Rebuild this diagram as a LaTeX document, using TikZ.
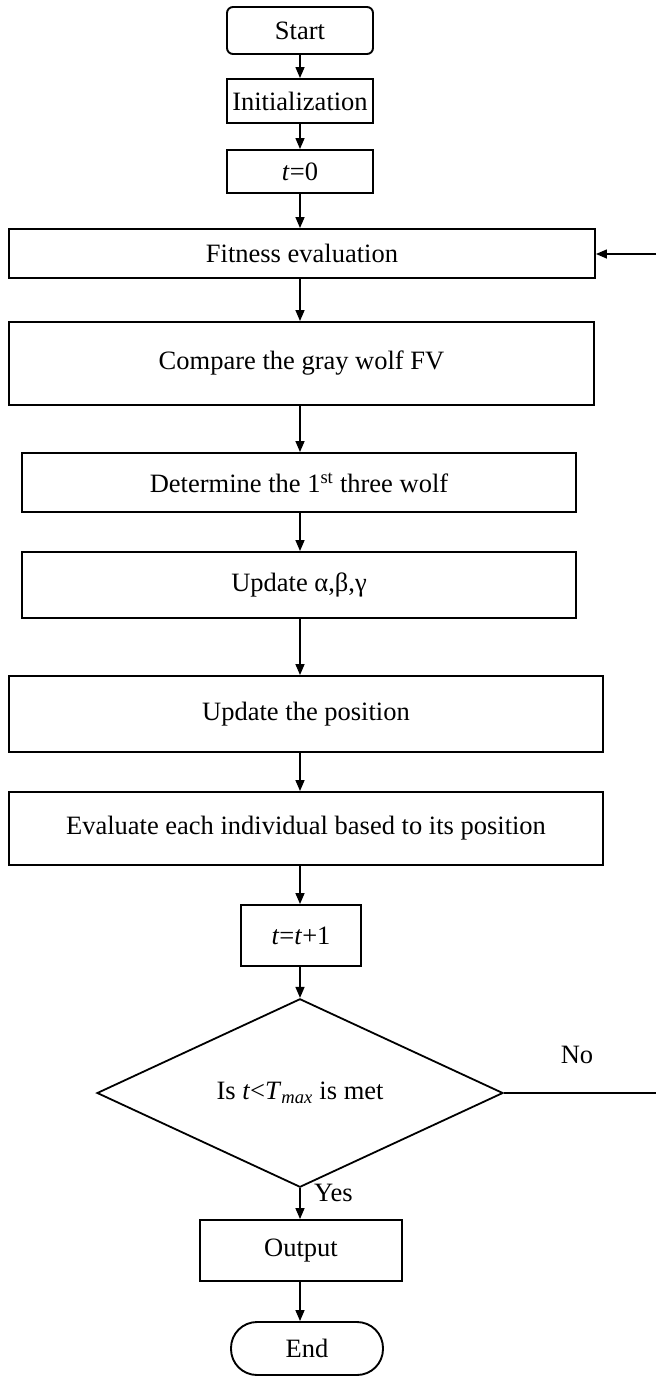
\documentclass[tikz,border=0pt]{standalone}
\usepackage{fontspec}
\setmainfont{Liberation Serif}
\usetikzlibrary{shapes.geometric,arrows.meta}
\begin{document}
\begin{tikzpicture}[x=1pt,y=-1pt,
  every node/.style={font=\fontsize{26.5}{31}\selectfont},
  box/.style={draw,line width=1.9pt,inner sep=0pt,align=center},
  term/.style={box,rounded corners=6pt},
  endterm/.style={box,rounded corners=26pt},
  decision/.style={draw,line width=1.8pt,diamond,inner sep=0pt,minimum width=406pt,minimum height=172pt},
  arr/.style={line width=1.4pt,-{Triangle[length=11pt,width=9pt]}},
  ln/.style={line width=1.4pt},
  lbl/.style={inner sep=0pt}]
\useasboundingbox (0,0) rectangle (656,1378);
\coordinate (ax) at (300,0);
\node[term,minimum width=146pt,minimum height=47pt] (start) at (300,30.5) {Start};
\node[box,minimum width=146pt,minimum height=44pt] (init) at (300,101) {Initialization};
\node[box,minimum width=146pt,minimum height=43pt] (t0) at (300,171.5) {\textit{t}=0};
\node[box,minimum width=586pt,minimum height=49pt] (fit) at (302,253.5) {Fitness evaluation};
\node[box,minimum width=585pt,minimum height=83pt] (cmp) at (301.5,363.5) {Compare the gray wolf FV};
\node[box,minimum width=554pt,minimum height=59pt] (det) at (299,482.5) {Determine the 1\textsuperscript{st} three wolf};
\node[box,minimum width=554pt,minimum height=66pt] (upd) at (299,585) {Update α,β,γ};
\node[box,minimum width=594pt,minimum height=76pt] (pos) at (306,714) {Update the position};
\node[box,minimum width=594pt,minimum height=73pt] (eva) at (306,828.5) {Evaluate each individual based to its position};
\node[box,minimum width=120pt,minimum height=61pt] (inc) at (301,935.5) {\textit{t}=\textit{t}+1};
\node[decision] (dec) at (300,1093) {Is \textit{t}<\textit{T}\textsubscript{\textit{max}} is met};
\node[box,minimum width=202pt,minimum height=61pt] (out) at (301,1250.5) {Output};
\node[endterm,minimum width=152pt,minimum height=53pt] (end) at (307,1348.5) {End};
\node[lbl] (no) at (577,1055) {No};
\node[lbl,anchor=west] (yes) at (314,1193) {Yes};
\coordinate (fbR) at (656,1093);
\coordinate (fbT) at (656,254);
\draw[arr] (start.south -| ax) -- (init.north -| ax);
\draw[arr] (init.south -| ax) -- (t0.north -| ax);
\draw[arr] (t0.south -| ax) -- (fit.north -| ax);
\draw[arr] (fit.south -| ax) -- (cmp.north -| ax);
\draw[arr] (cmp.south -| ax) -- (det.north -| ax);
\draw[arr] (det.south -| ax) -- (upd.north -| ax);
\draw[arr] (upd.south -| ax) -- (pos.north -| ax);
\draw[arr] (pos.south -| ax) -- (eva.north -| ax);
\draw[arr] (eva.south -| ax) -- (inc.north -| ax);
\draw[arr] (inc.south -| ax) -- (dec.north);
\draw[arr] (dec.south) -- (out.north -| ax);
\draw[arr] (out.south -| ax) -- (end.north -| ax);
\draw[ln] (dec.east) -- (fbR);
\draw[arr] (fbT) -- (fit.east |- fbT);
\end{tikzpicture}
\end{document}
